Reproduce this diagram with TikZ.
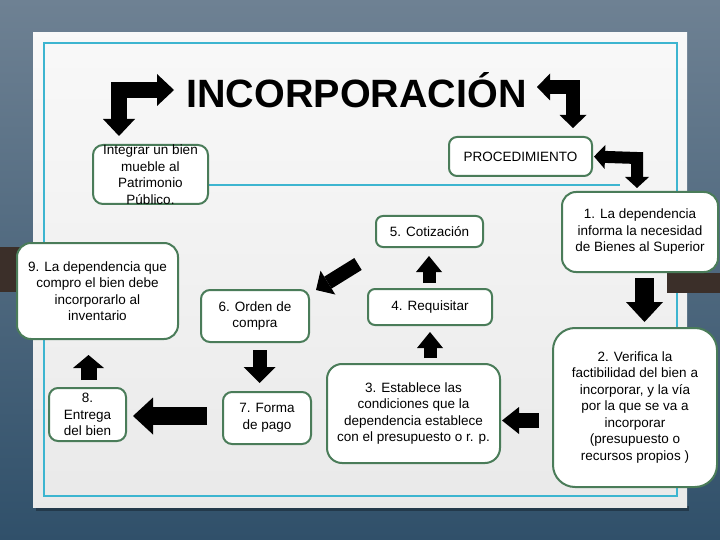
\documentclass[tikz,border=0pt]{standalone}
\usepackage{fontspec}
\setmainfont{Liberation Sans}
\usetikzlibrary{arrows.meta,calc}
\definecolor{verdecaja}{HTML}{4A7C59}
\definecolor{cian}{HTML}{3DB5D0}
\definecolor{fondoalto}{HTML}{6E8193}
\definecolor{fondobajo}{HTML}{30506A}
\definecolor{cafe}{HTML}{3B2F29}

\begin{document}
\begin{tikzpicture}[
  x=1pt, y=-1pt,
  caja/.style={draw=verdecaja, line width=2pt, fill=white, rounded corners=#1, align=center, inner sep=1pt, font=\fontsize{13.5}{16.5}\selectfont},
  caja/.default=8pt,
  flecha/.style n args={3}{line width=#1, -{Triangle[width=#2, length=#3, line width=0pt]}},
  doble/.style n args={3}{line width=#1, line join=miter, {Triangle[width=#2, length=#3, line width=0pt]}-{Triangle[width=#2, length=#3, line width=0pt]}},
  linea/.style={draw=cian, line width=2pt}
]
% fondo y tarjeta
\useasboundingbox (0,0) rectangle (720,540);
\shade[top color=fondoalto, bottom color=fondobajo] (0,0) rectangle (720,540);
\fill[cafe] (0,247) rectangle (40,292);
\fill[black, opacity=.3] (36,506) rectangle (689,511);
\shade[top color=gray!5, bottom color=gray!17] (33,33) rectangle (687,507);
\draw[linea] (44,43) rectangle (677,496);
\draw[linea] (150,185.5) -- (620,185.5);
\fill[cafe] (667,273) rectangle (720,293);

\node[anchor=base, font=\fontsize{39.5}{40}\selectfont\bfseries] (titulo) at (356.5,108) {INCORPORACIÓN};

% cajas
\node[caja=10pt, minimum width=115pt, minimum height=59pt, inner ysep=-3pt] (integrar) at (150.5,174.5) {Integrar un bien\\mueble al\\Patrimonio\\Público.};
\node[caja, minimum width=143pt, minimum height=39pt] (proc) at (520.5,156.5) {PROCEDIMIENTO};
\node[caja=14pt, minimum width=156pt, minimum height=80pt] (b1) at (640,232) {1. La dependencia\\informa la necesidad\\de Bienes al Superior};
\node[caja=22pt, minimum width=164pt, minimum height=159pt] (b2) at (635,407.5) {2. Verifica la\\factibilidad del bien a\\incorporar, y la vía\\por la que se va a\\incorporar\\(presupuesto o\\recursos propios )};
\node[caja=15pt, minimum width=173pt, minimum height=99pt] (b3) at (413.5,413.5) {3. Establece las\\condiciones que la\\dependencia establece\\con el presupuesto o r. p.};
\node[caja=7pt, minimum width=124pt, minimum height=36pt] (b4) at (430,307) {4. Requisitar};
\node[caja=7pt, minimum width=107pt, minimum height=31pt] (b5) at (429.5,231.5) {5. Cotización};
\node[caja=9pt, minimum width=108pt, minimum height=52pt] (b6) at (255,316) {6. Orden de\\compra};
\node[caja=9pt, minimum width=88pt, minimum height=52pt] (b7) at (267,418) {7. Forma\\de pago};
\node[caja=9pt, minimum width=77pt, minimum height=53pt] (b8) at (87.5,414.5) {8.\\Entrega\\del bien};
\node[caja=14pt, minimum width=161pt, minimum height=96pt] (b9) at (97.5,291) {9. La dependencia que\\compro el bien debe\\incorporarlo al\\inventario};

% flechas
\coordinate (t1a) at (119,136);
\coordinate (t1b) at (119,90);
\coordinate (t1c) at (174,90);
\coordinate (t2a) at (537,87);
\coordinate (t2b) at (573,87);
\coordinate (t2c) at (573,128);
\coordinate (pq) at (637,158);
\coordinate (a12) at (644.5,278);  \coordinate (p12) at (644.5,322);
\coordinate (a23) at (539,420.5);  \coordinate (p23) at (502,420.5);
\coordinate (a34) at (430,358);    \coordinate (p34) at (430,332);
\coordinate (a45) at (429,283);    \coordinate (p45) at (429,256);
\coordinate (a56) at (358,264);    \coordinate (p56) at (316,290);
\coordinate (a67) at (259.5,350);  \coordinate (p67) at (259.5,383);
\coordinate (a78) at (207,416);    \coordinate (p78) at (133,416);
\coordinate (a89) at (88.5,380);   \coordinate (p89) at (88.5,355);

\draw[doble={16pt}{32pt}{17pt}] (t1a) -- (t1b) -- (t1c);
\draw[doble={14pt}{27pt}{13pt}] (t2a) -- (t2b) -- (t2c);
\draw[doble={12pt}{24pt}{11pt}, shorten <=1pt, shorten >=3pt] (proc.east) -- (pq) -- (pq |- b1.north);

\draw[flecha={19pt}{37pt}{20pt}] (a12) -- (p12);
\draw[flecha={15pt}{27pt}{17pt}] (a23) -- (p23);
\draw[flecha={13pt}{26pt}{16pt}] (a34) -- (p34);
\draw[flecha={13pt}{26pt}{16pt}] (a45) -- (p45);
\draw[flecha={14pt}{28pt}{14pt}] (a56) -- (p56);
\draw[flecha={14pt}{32pt}{16pt}] (a67) -- (p67);
\draw[flecha={18pt}{37pt}{20pt}] (a78) -- (p78);
\draw[flecha={16pt}{31pt}{13pt}] (a89) -- (p89);
\end{tikzpicture}
\end{document}
